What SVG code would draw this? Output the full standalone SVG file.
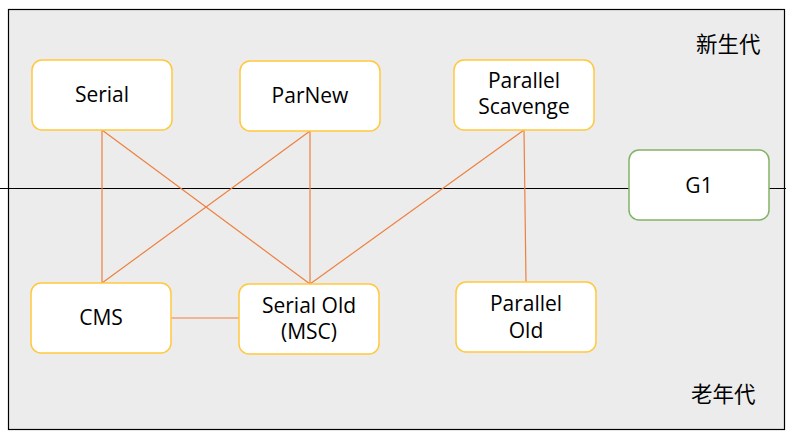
<svg xmlns="http://www.w3.org/2000/svg" width="793" height="440" viewBox="0 0 793 440">
  <style>
    .node rect { fill: #ffffff; stroke: #ffc83d; stroke-width: 1.5; }
    .node.g1 rect { stroke: #82b366; }
    .label { font-family: "Open Sans", "Noto Sans", "Liberation Sans", sans-serif; font-size: 21px; fill: #000; text-anchor: middle; }
    .zone { font-family: "Noto Sans CJK SC", "Noto Sans", sans-serif; font-size: 21.5px; fill: #000; }
    .links line { stroke: #ee8040; stroke-width: 1.2; }
  </style>

  <!-- background and generation divider -->
  <rect x="0" y="0" width="793" height="440" fill="#ffffff"/>
  <rect x="8.5" y="9.5" width="776" height="420" fill="#ececec" stroke="#000" stroke-width="1.2"/>
  <line x1="0" y1="188.5" x2="786" y2="188.5" stroke="#000" stroke-width="1"/>

  <text class="zone" x="696" y="52">新生代</text>
  <text class="zone" x="691" y="402">老年代</text>

  <!-- collector compatibility -->
  <g id="connectors" class="links">
    <line x1="102" y1="130" x2="102" y2="283"/>
    <line x1="102" y1="130" x2="310" y2="284"/>
    <line x1="310" y1="131" x2="102" y2="283"/>
    <line x1="310" y1="131" x2="310" y2="284"/>
    <line x1="524" y1="130" x2="310" y2="284"/>
    <line x1="524" y1="130" x2="526" y2="282"/>
    <line x1="171" y1="318" x2="239" y2="318"/>
  </g>

  <g id="serial" class="node">
    <rect x="32" y="60" width="140" height="70" rx="10"/>
    <text class="label" x="102" y="102">Serial</text>
  </g>
  <g id="parnew" class="node">
    <rect x="240" y="61" width="140" height="70" rx="10"/>
    <text class="label" x="310" y="103">ParNew</text>
  </g>
  <g id="parallel-scavenge" class="node">
    <rect x="454" y="60" width="140" height="70" rx="10"/>
    <text class="label" x="524" y="88">Parallel</text>
    <text class="label" x="524" y="114">Scavenge</text>
  </g>
  <g id="g1" class="node g1">
    <rect x="629" y="150" width="140" height="70" rx="10"/>
    <text class="label" x="699" y="193">G1</text>
  </g>
  <g id="cms" class="node">
    <rect x="31" y="283" width="140" height="70" rx="10"/>
    <text class="label" x="101" y="325">CMS</text>
  </g>
  <g id="serial-old" class="node">
    <rect x="239" y="284" width="140" height="70" rx="10"/>
    <text class="label" x="309" y="313">Serial Old</text>
    <text class="label" x="309" y="339">(MSC)</text>
  </g>
  <g id="parallel-old" class="node">
    <rect x="456" y="282" width="140" height="70" rx="10"/>
    <text class="label" x="526" y="311">Parallel</text>
    <text class="label" x="526" y="338">Old</text>
  </g>
</svg>
